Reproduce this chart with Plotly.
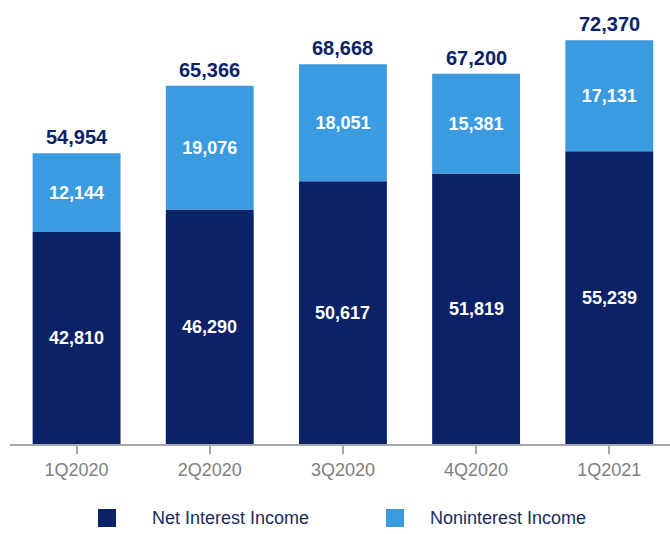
import plotly.graph_objects as go

quarters = ["1Q2020", "2Q2020", "3Q2020", "4Q2020", "1Q2021"]
net_interest = [42810, 46290, 50617, 51819, 55239]
noninterest = [12144, 19076, 18051, 15381, 17131]
totals = [54954, 65366, 68668, 67200, 72370]
series_names = ["Net Interest Income", "Noninterest Income"]

NAVY = "#0b2268"
LIGHT = "#3b9be0"
FONT = "Liberation Sans, Arial, sans-serif"

W, H = 670, 534
ML, MR, MT, MB = 10, 0, 20, 90
plot_w = W - ML - MR
plot_h = H - MT - MB
Y_MIN, Y_MAX = 10134, 75485


def px_x(p):
    return (p - ML) / plot_w


def px_y(p):
    return (H - MB - p) / plot_h


fig = go.Figure()
fig.add_trace(go.Bar(
    x=quarters, y=net_interest, name=series_names[0],
    marker=dict(color=NAVY, line=dict(width=0)),
    textposition="none",
))
fig.add_trace(go.Bar(
    x=quarters, y=noninterest, name=series_names[1],
    marker=dict(color=LIGHT, line=dict(width=0)),
    text=[f"{v:,}" for v in noninterest], textposition="inside",
    insidetextanchor="middle",
    textfont=dict(color="white", size=18, family=FONT, weight="bold"),
    base=net_interest,
))

# net interest values centred in the visible part of each dark segment
for q, v in zip(quarters, net_interest):
    fig.add_annotation(
        x=q, y=(Y_MIN + v) / 2, text=f"<b>{v:,}</b>", showarrow=False,
        yanchor="middle", font=dict(size=18, color="white", family=FONT),
    )

# totals above each stack
for q, t in zip(quarters, totals):
    fig.add_annotation(
        x=q, y=t, text=f"<b>{t:,}</b>", showarrow=False,
        yanchor="bottom", yshift=3,
        font=dict(size=20, color=NAVY, family=FONT),
    )

# legend drawn as squares with labels
legend_items = [(98, 150, NAVY, series_names[0]), (386, 428, LIGHT, series_names[1])]
for sx, tx, col, name in legend_items:
    fig.add_shape(
        type="rect", xref="paper", yref="paper",
        x0=px_x(sx), x1=px_x(sx + 18), y0=px_y(527), y1=px_y(509),
        fillcolor=col, line=dict(width=0),
    )
    fig.add_annotation(
        xref="paper", yref="paper", x=px_x(tx), y=px_y(518),
        text=name, showarrow=False, xanchor="left", yanchor="middle",
        font=dict(size=18, color="#1c2b5e", family=FONT),
    )

fig.update_layout(
    barmode="overlay",
    bargap=0.34,
    width=W, height=H,
    margin=dict(l=ML, r=MR, t=MT, b=MB, pad=0),
    plot_bgcolor="white", paper_bgcolor="white",
    showlegend=False,
    font=dict(family=FONT),
    uniformtext=dict(mode="show", minsize=10),
)
fig.update_xaxes(
    range=[-0.5, 4.456],
    showline=True, linecolor="#a6a6a6", linewidth=2,
    ticks="outside", ticklen=8, tickcolor="#a6a6a6", tickwidth=1.5,
    tickfont=dict(size=18, color="#808080", family=FONT),
    showgrid=False, zeroline=False,
)
fig.update_yaxes(
    range=[Y_MIN, Y_MAX], visible=False, showgrid=False, zeroline=False,
)

fig.write_html("out.html")
